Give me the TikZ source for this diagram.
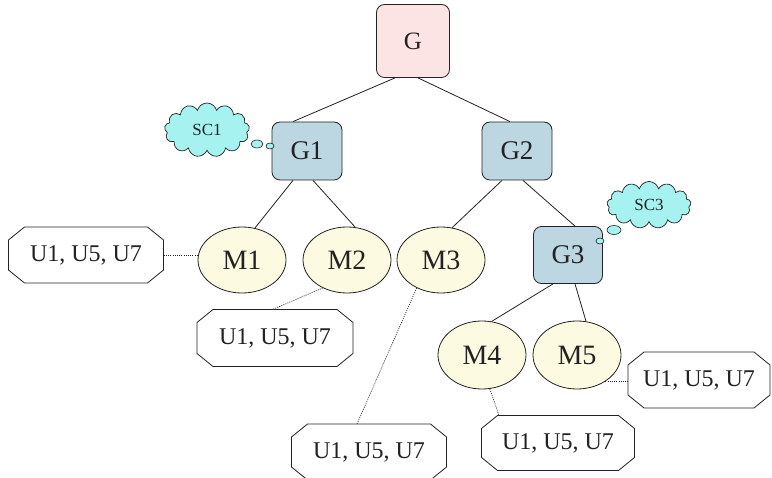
\documentclass[tikz,border=0pt]{standalone}
\usepackage{fontspec}
\setmainfont{Liberation Serif}
\usetikzlibrary{shapes.geometric,shapes.symbols}
\definecolor{pinkc}{HTML}{FCE4E4}
\definecolor{bluec}{HTML}{BCD6E2}
\definecolor{yelc}{HTML}{FCFAE0}
\definecolor{cloudc}{HTML}{A6F2F0}
\definecolor{linec}{HTML}{222222}
\tikzset{
  gbox/.style={draw=linec, line width=0.8pt, rounded corners=8pt, fill=bluec, inner sep=0pt,
    minimum width=70, minimum height=58, font=\fontsize{27}{29}\selectfont, text=linec},
  mnode/.style={draw=linec, line width=0.8pt, ellipse, fill=yelc, inner sep=0pt,
    minimum width=88, minimum height=66, font=\fontsize{28}{30}\selectfont, text=linec},
  ubox/.style={rectangle, inner sep=0pt,
    minimum width=155, minimum height=56, font=\fontsize{24}{26}\selectfont, text=linec},
  octo/.style={draw=linec, line width=0.8pt, fill=white, line join=round},
  cloudbox/.style={draw=linec, line width=0.7pt, cloud, cloud puffs=13, cloud ignores aspect,
    fill=cloudc, inner sep=0pt, font=\fontsize{17}{19}\selectfont, text=linec},
  bubble/.style={draw=linec, line width=0.6pt, ellipse, fill=cloudc, inner sep=0pt},
  tree/.style={draw=linec, line width=0.8pt},
  dots/.style={draw=linec, line width=0.7pt, dash pattern=on 1pt off 1.2pt},
}
\begin{document}
\begin{tikzpicture}[x=1pt,y=-1pt]
\useasboundingbox (0,0) rectangle (772,478);
% top
\node[gbox, fill=pinkc, minimum width=73, minimum height=73, font=\fontsize{25}{27}\selectfont] (G) at (413,41) {G};
\node[gbox] (G1) at (307,151) {G1};
\node[gbox] (G2) at (517,151) {G2};
\node[gbox, minimum width=69, minimum height=57] (G3) at (568,255) {G3};
% clouds
\node[cloudbox, minimum width=85, minimum height=54] (SC1) at (207,130) {SC1};
\node[bubble, minimum width=12, minimum height=8] (b1) at (257,144) {};
\node[bubble, minimum width=8, minimum height=6] (b2) at (270,146) {};
\node[cloudbox, minimum width=84, minimum height=47] (SC3) at (649,205) {SC3};
\node[bubble, minimum width=14, minimum height=9] (b3) at (614,230) {};
\node[bubble, minimum width=8, minimum height=6] (b4) at (600,241) {};
% modules
\node[mnode] (M1) at (242,260) {M1};
\node[mnode] (M2) at (347,260) {M2};
\node[mnode] (M3) at (441,260) {M3};
\node[mnode, minimum height=68] (M4) at (482,355) {M4};
\node[mnode, minimum height=68] (M5) at (577,355) {M5};
% user boxes (octagons drawn behind the text)
\foreach \n/\x/\y/\w/\h in {Ua/86/255/155/56, Ub/275/338/156/57, Uc/369/452/155/56, Ud/558/443/153/55, Ue/699/380/142/56}{
  \path[octo] (\x-\w/2+16,\y-\h/2) -- (\x+\w/2-16,\y-\h/2) -- (\x+\w/2,\y-\h/2+13) -- (\x+\w/2,\y+\h/2-13)
    -- (\x+\w/2-16,\y+\h/2) -- (\x-\w/2+16,\y+\h/2) -- (\x-\w/2,\y+\h/2-13) -- (\x-\w/2,\y-\h/2+13) -- cycle;
}
\node[ubox] (Ua) at (86,255) {U1, U5, U7};
\node[ubox, minimum width=156, minimum height=57] (Ub) at (275,338) {U1, U5, U7};
\node[ubox] (Uc) at (369,452) {U1, U5, U7};
\node[ubox, minimum width=153, minimum height=55] (Ud) at (558,443) {U1, U5, U7};
\node[ubox, minimum width=142] (Ue) at (699,380) {U1, U5, U7};
% tree edges
\draw[tree] ([xshift=-18]G.south) -- ([xshift=-14]G1.north);
\draw[tree] ([xshift=5]G.south) -- ([xshift=-7]G2.north);
\draw[tree] ([xshift=-14]G1.south) -- (M1.68);
\draw[tree] ([xshift=6]G1.south) -- (M2.76);
\draw[tree] ([xshift=-15]G2.south) -- (M3.71);
\draw[tree] ([xshift=6]G2.south) -- ([xshift=7]G3.north);
\draw[tree] ([xshift=-15]G3.south) -- (M4.74);
\draw[tree] ([xshift=7]G3.south) -- (M5.75);
% dotted links
\draw[dots] (Ua.east) -- (Ua.east -| M1.west);
\draw[dots] (M2.229) -- ([xshift=-2]Ub.north);
\draw[dots] (M3.229) -- ([xshift=-12]Uc.north);
\draw[dots] (M4.283) -- ([xshift=-59]Ud.north);
\draw[dots] (M5.317) -- (M5.317 -| Ue.west);
\end{tikzpicture}
\end{document}
